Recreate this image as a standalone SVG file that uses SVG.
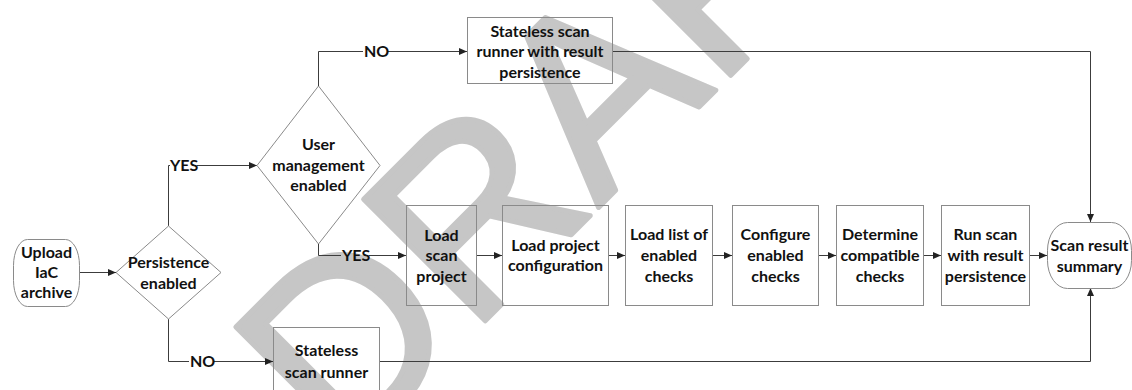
<svg xmlns="http://www.w3.org/2000/svg" width="1132" height="390" viewBox="0 0 1132 390">
<defs>
<style>
.node{fill:none;stroke:#8a8a8a;stroke-width:1}
.t{font-family:Lato,"Open Sans","Liberation Sans",sans-serif;font-weight:bold;font-size:16px;fill:#111;text-anchor:middle}
.lbl{font-family:Lato,"Open Sans","Liberation Sans",sans-serif;font-weight:bold;font-size:16px;fill:#111;text-anchor:start}
.c{fill:none;stroke:#3c3c3c;stroke-width:1}
.wm{font-family:"Liberation Sans",Arial,sans-serif;font-size:250px;fill:#c6c6c6;stroke:#c6c6c6;stroke-width:5;stroke-linejoin:round}
</style>
<marker id="arr" markerWidth="8" markerHeight="7" refX="8" refY="3.5" orient="auto" markerUnits="userSpaceOnUse">
<path d="M0,0 L8,3.5 L0,7 z" fill="#222"/>
</marker>
</defs>
<rect width="1132" height="390" fill="#fff"/>
<g id="watermark">
<text class="wm" transform="translate(343,463) rotate(-45)">DRAFT</text>
</g>
<g id="connectors">
<path class="c" d="M79,272.5 H116" marker-end="url(#arr)"/>
<path class="c" d="M168.5,226 V165.5 H170"/>
<path class="c" d="M197,165.5 H257" marker-end="url(#arr)"/>
<path class="c" d="M318.5,86 V51.5 H363"/>
<path class="c" d="M387,51.5 H467" marker-end="url(#arr)"/>
<path class="c" d="M318.5,244 V255.5 H341"/>
<path class="c" d="M369,255.5 H406" marker-end="url(#arr)"/>
<path class="c" d="M168.5,319 V361.5 H189"/>
<path class="c" d="M213,361.5 H273" marker-end="url(#arr)"/>
<path class="c" d="M476,255.5 H502" marker-end="url(#arr)"/>
<path class="c" d="M608,255.5 H625" marker-end="url(#arr)"/>
<path class="c" d="M712,255.5 H732" marker-end="url(#arr)"/>
<path class="c" d="M818,255.5 H836" marker-end="url(#arr)"/>
<path class="c" d="M923,255.5 H941" marker-end="url(#arr)"/>
<path class="c" d="M1029,255.5 H1047" marker-end="url(#arr)"/>
<path class="c" d="M612,51.5 H1090.5 V222" marker-end="url(#arr)"/>
<path class="c" d="M379,361.5 H1090.5 V288" marker-end="url(#arr)"/>
<text class="lbl" x="170" y="170.5">YES</text>
<text class="lbl" x="364" y="56.5">NO</text>
<text class="lbl" x="342" y="260.5">YES</text>
<text class="lbl" x="190" y="366.5">NO</text>
</g>
<g id="upload">
<rect class="node" x="13.5" y="239.5" width="66" height="67" rx="14" ry="26"/>
<text class="t" x="46.5" y="257.5">Upload</text>
<text class="t" x="46.5" y="277.5">IaC</text>
<text class="t" x="46.5" y="297.5">archive</text>
</g>
<g id="persistence">
<polygon class="node" points="116,272.5 168.5,226 221,272.5 168.5,319"/>
<text class="t" x="168.5" y="267.5">Persistence</text>
<text class="t" x="168.5" y="288.5">enabled</text>
</g>
<g id="usermgmt">
<polygon class="node" points="257,165.5 318.5,86 380,165.5 318.5,244"/>
<text class="t" x="318.5" y="149.5">User</text>
<text class="t" x="318.5" y="170.5">management</text>
<text class="t" x="318.5" y="190.5">enabled</text>
</g>
<g id="stateless-persist">
<rect class="node" x="467.5" y="17.5" width="145" height="66"/>
<text class="t" x="540" y="36.5">Stateless scan</text>
<text class="t" x="540" y="57">runner with result</text>
<text class="t" x="540" y="77.5">persistence</text>
</g>
<g id="load-scan">
<rect class="node" x="406.5" y="205.5" width="70" height="100"/>
<text class="t" x="441.5" y="240.5">Load</text>
<text class="t" x="441.5" y="261">scan</text>
<text class="t" x="441.5" y="281.5">project</text>
</g>
<g id="load-config">
<rect class="node" x="502.5" y="205.5" width="106" height="100"/>
<text class="t" x="555.5" y="250.5">Load project</text>
<text class="t" x="555.5" y="271">configuration</text>
</g>
<g id="load-list">
<rect class="node" x="625.5" y="205.5" width="87" height="100"/>
<text class="t" x="669" y="240">Load list of</text>
<text class="t" x="669" y="260.5">enabled</text>
<text class="t" x="669" y="281.5">checks</text>
</g>
<g id="configure">
<rect class="node" x="732.5" y="205.5" width="86" height="100"/>
<text class="t" x="775.5" y="240">Configure</text>
<text class="t" x="775.5" y="260.5">enabled</text>
<text class="t" x="775.5" y="281.5">checks</text>
</g>
<g id="determine">
<rect class="node" x="836.5" y="205.5" width="87" height="100"/>
<text class="t" x="880" y="240">Determine</text>
<text class="t" x="880" y="260.5">compatible</text>
<text class="t" x="880" y="281.5">checks</text>
</g>
<g id="run-scan">
<rect class="node" x="941.5" y="205.5" width="88" height="100"/>
<text class="t" x="985.5" y="240">Run scan</text>
<text class="t" x="985.5" y="260.5">with result</text>
<text class="t" x="985.5" y="281.5">persistence</text>
</g>
<g id="summary">
<rect class="node" x="1047.5" y="222.5" width="84" height="66" rx="20" ry="28"/>
<text class="t" x="1089.5" y="250.5">Scan result</text>
<text class="t" x="1089.5" y="271.5">summary</text>
</g>
<g id="stateless">
<rect class="node" x="273.5" y="327.5" width="106" height="70"/>
<text class="t" x="326.5" y="355.5">Stateless</text>
<text class="t" x="326.5" y="377.5">scan runner</text>
</g>
</svg>
